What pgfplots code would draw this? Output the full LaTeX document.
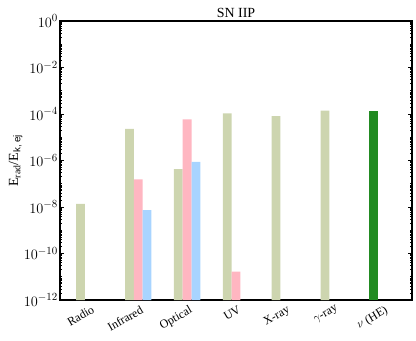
\documentclass[border=0pt]{standalone}
\usepackage{fontspec}
\setmainfont{Liberation Serif}
\setsansfont{Liberation Sans}
\usepackage{pgfplots}
\pgfplotsset{compat=1.18}

\definecolor{lgreen}{HTML}{CDD5AF}
\definecolor{lpink}{HTML}{FFB6C1}
\definecolor{lblue}{HTML}{A8D4FF}
\definecolor{dgreen}{HTML}{228B22}

% minor ticks 2..9 in every decade
\def\minorlist{}
\foreach \e in {-12,...,-1}{\foreach \m in {1,...,9}{\xdef\minorlist{\minorlist\m e\e,}}}
\xdef\minorlist{\minorlist 1}

\begin{document}
\begin{tikzpicture}
\useasboundingbox (-60bp,-41bp) rectangle (356bp,300bp);
\begin{axis}[
    scale only axis,
    width=352bp, height=279bp,
    ymode=log, log basis y=10,
    ymin=1e-12, ymax=1,
    log origin=infty,
    xmin=-0.6, xmax=6.6,
    ybar, bar width=0.18,
    xtick={0,...,6},
    xticklabels={Radio, Infrared, Optical, UV, X-ray, $\gamma$-ray, $\nu$ (HE)},
    x tick label style={rotate=30, anchor=north east, font=\fontsize{12}{14}\selectfont, inner sep=1pt, yshift=-4bp},
    x tick style={draw=none},
    ytick={1e-12,1e-10,1e-8,1e-6,1e-4,1e-2,1},
    yticklabel={$10^{\pgfmathprintnumber{\tick}}$},
    yticklabel style={font=\fontsize{15}{17}\selectfont, inner sep=2pt},
    minor ytick/.expanded={\minorlist},
    ytick pos=both, tick align=inside,
    major tick length=4bp, minor tick length=2bp,
    tick style={black, line width=0.6pt},
    axis line style={line width=1.1pt},
    ylabel={E\textsubscript{rad}/E\textsubscript{\sffamily k, ej}},
    ylabel style={font=\fontsize{14}{16}\selectfont, yshift=-4bp},
    title={SN IIP},
    title style={font=\fontsize{14}{16}\selectfont, yshift=-6bp},
]
\addplot[fill=lgreen, draw=none, bar shift=-0.18] coordinates {
    (0,1.35e-8) (1,2.3e-5) (2,4.3e-7) (3,1.07e-4) (4,8.2e-5) (5,1.4e-4)
};
\addplot[fill=lpink, draw=none, bar shift=0] coordinates {
    (1,1.55e-7) (2,5.9e-5) (3,1.65e-11)
};
\addplot[fill=lblue, draw=none, bar shift=0.18] coordinates {
    (1,7.4e-9) (2,8.7e-7)
};
\addplot[fill=dgreen, draw=none, bar shift=-0.18] coordinates {
    (6,1.35e-4)
};
\end{axis}
\end{tikzpicture}
\end{document}
